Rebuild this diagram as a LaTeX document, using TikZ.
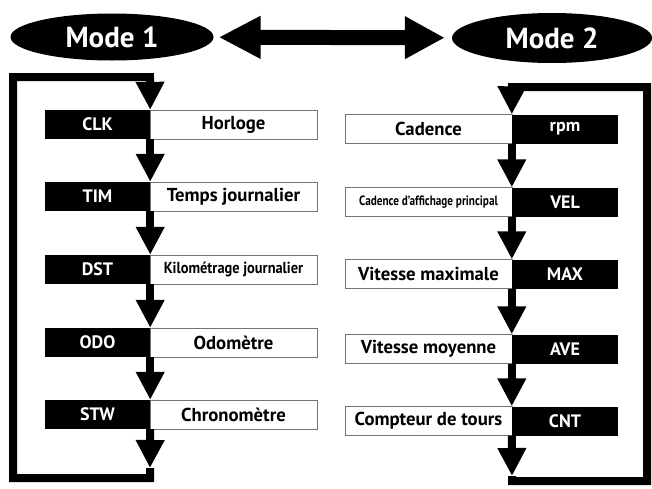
\documentclass[tikz,border=0pt]{standalone}
\usepackage{fontspec}
\setmainfont{PT Sans}
\usetikzlibrary{arrows.meta,shapes.geometric}
\begin{document}
\begin{tikzpicture}[x=1pt,y=-1pt,
  keybox/.style={fill=black, text=white, font=\bfseries\fontsize{18}{20}\selectfont, minimum width=105pt, minimum height=29pt, inner sep=0pt},
  labbox/.style={draw=black!55, line width=0.6pt, fill=white, font=\bfseries\fontsize{18.7}{21}\selectfont, minimum width=167pt, minimum height=29pt, inner sep=0pt},
  flow/.style={line width=8pt, line join=miter, -{Triangle[width=27pt,length=28pt]}},
  modebox/.style={ellipse, fill=black, text=white, font=\bfseries\fontsize{29}{32}\selectfont, inner sep=0pt}]
\useasboundingbox (0,0) rectangle (652,488);
\fill[white] (0,0) rectangle (652,488);
% mode ellipses
\node[modebox, minimum width=203pt, minimum height=47pt] (m1) at (112,37) {Mode 1};
\node[modebox, minimum width=200pt, minimum height=50pt] (m2) at (552,38) {Mode 2};
\draw[line width=15pt, {Triangle[width=40pt,length=42pt]}-{Triangle[width=40pt,length=40pt]}, shorten <=5pt, shorten >=7pt] (m1) -- (m2);
% left column
\node[keybox] (lk1) at (97.5,124.5) {CLK};
\node[labbox] (lw1) at (233.5,124.5) {Horloge};
\node[keybox] (lk2) at (97.5,196.5) {TIM};
\node[labbox] (lw2) at (233.5,196.5) {Temps journalier};
\node[keybox] (lk3) at (97.5,269.5) {DST};
\node[labbox] (lw3) at (233.5,269.5) {\scalebox{0.9}[1]{\fontsize{16}{18}\selectfont Kilométrage journalier}};
\node[keybox] (lk4) at (97.5,342.5) {ODO};
\node[labbox] (lw4) at (233.5,342.5) {Odomètre};
\node[keybox] (lk5) at (97.5,414.5) {STW};
\node[labbox] (lw5) at (233.5,414.5) {Chronomètre};
% right column
\node[labbox] (rw1) at (428.5,129) {Cadence};
\node[keybox, minimum width=106pt] (rk1) at (565,129) {rpm};
\node[labbox] (rw2) at (428.5,202) {\scalebox{0.83}[1]{\fontsize{13.5}{15}\selectfont Cadence d'affichage principal}};
\node[keybox, minimum width=106pt] (rk2) at (565,202) {VEL};
\node[labbox] (rw3) at (428.5,274) {Vitesse maximale};
\node[keybox, minimum width=106pt] (rk3) at (565,274) {MAX};
\node[labbox] (rw4) at (428.5,349) {Vitesse moyenne};
\node[keybox, minimum width=106pt] (rk4) at (565,349) {AVE};
\node[labbox] (rw5) at (428.5,421) {Compteur de tours};
\node[keybox, minimum width=106pt] (rk5) at (565,421) {CNT};
% loop coordinates
\coordinate (lend) at (150,468);
\coordinate (lb) at (150,478);
\coordinate (ll) at (13,478);
\coordinate (lt) at (13,77);
\coordinate (ltr) at (150,77);
\coordinate (rend) at (512,476);
\coordinate (rb) at (512,481);
\coordinate (rr) at (647,481);
\coordinate (rt) at (647,87);
\coordinate (rtl) at (512,87);
% left arrows
\draw[flow] (lend) -- (lb) -- (ll) -- (lt) -- (ltr) -- (lk1.north east);
\draw[flow] (lk1.south east) -- (lk2.north east);
\draw[flow] (lk2.south east) -- (lk3.north east);
\draw[flow] (lk3.south east) -- (lk4.north east);
\draw[flow] (lk4.south east) -- (lk5.north east);
\draw[flow] (lk5.south east) -- (lend);
% right arrows
\draw[flow] (rend) -- (rb) -- (rr) -- (rt) -- (rtl) -- (rk1.north west);
\draw[flow] (rk1.south west) -- (rk2.north west);
\draw[flow] (rk2.south west) -- (rk3.north west);
\draw[flow] (rk3.south west) -- (rk4.north west);
\draw[flow] (rk4.south west) -- (rk5.north west);
\draw[flow] (rk5.south west) -- (rend);
\end{tikzpicture}
\end{document}
